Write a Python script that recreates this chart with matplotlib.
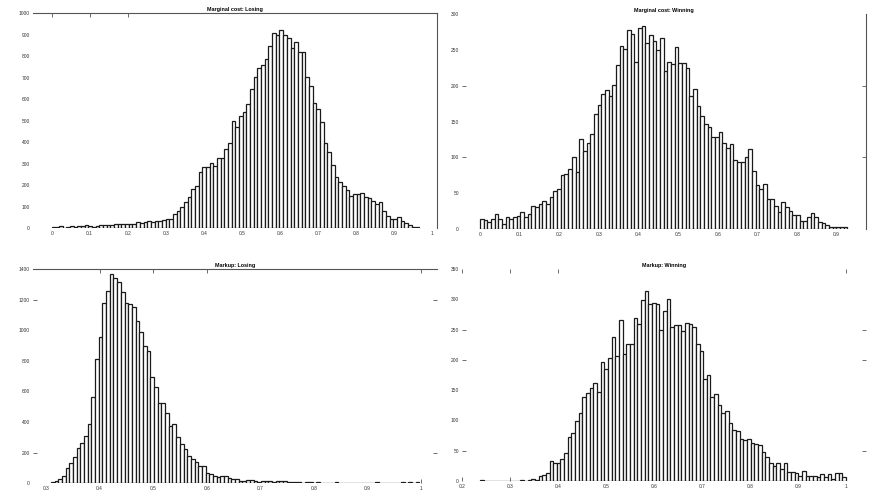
import numpy as np
import matplotlib
matplotlib.use("Agg")
import matplotlib.pyplot as plt

plt.rcParams['font.family'] = ['Liberation Sans', 'DejaVu Sans']

# ---------------- data (counts per bin, 100 bins spanning each sample range) ----------------
mc_losing_counts = [8, 8, 11, 3, 7, 9, 7, 9, 10, 15,
                    9, 8, 10, 16, 16, 17, 14, 18, 20, 20,
                    22, 18, 22, 27, 24, 30, 32, 28, 36, 32,
                    40, 43, 43,
                    68, 80, 99, 122, 147, 184, 195, 260, 287, 287,
                    302, 290, 326, 326, 367, 398, 498, 471, 524, 543,
                    577, 647, 702, 747, 758, 786, 850, 907, 899, 921,
                    898, 884, 840, 868, 822, 820, 704, 662, 581, 557,
                    493, 398, 357, 296, 237, 216, 195, 180, 149, 158,
                    158, 166, 144, 143, 126, 113, 122, 82, 59, 42,
                    43, 51, 33, 26, 14, 8, 4]
mc_losing_range = (0.0, 0.966)

mc_winning_counts = [13, 12, 9, 14, 20, 13, 7, 17, 14, 17,
                     18, 23, 16, 21, 32, 30, 34, 39, 35, 45,
                     53, 56, 75, 77, 83, 100, 79, 125, 109, 120,
                     132, 160, 173, 189, 194, 186, 201, 229, 256, 251,
                     278, 272, 233, 281, 283, 260, 271, 262, 250, 267,
                     220, 233, 230, 254, 232, 232, 225, 185, 195, 171,
                     157, 147, 142, 129, 128, 135, 120, 113, 118, 96,
                     93, 94, 100, 112, 81, 61, 55, 62, 42, 41,
                     32, 24, 38, 31, 25, 19, 19, 11, 11, 17,
                     22, 17, 9, 7.5, 5.7, 2.8, 1.9, 1.9, 2.3, 2]
mc_winning_range = (0.0, 0.927)

mk_losing_counts = [7, 17, 28, 50, 98, 131, 174, 233, 266, 311, 388, 562, 812, 958, 1176, 1256,
                    1365,
                    1339, 1317, 1252, 1176, 1171, 1150, 1058, 986, 899, 864,
                    697, 632, 522, 527, 457, 377, 385, 305, 255, 222,
                    180, 160, 140, 112, 112,
                    68, 60, 50, 40, 48, 45, 35, 25, 28, 18,
                    15, 22, 20, 15, 10, 18, 15, 12, 10, 15,
                    13, 12, 8, 10, 7, 8, 5, 10, 7, 5,
                    7, 5, 5, 4, 5, 6, 4, 4, 5, 3,
                    5, 4, 5, 4, 4, 3, 6, 4, 4, 5,
                    3, 5, 4, 6, 3, 7, 5, 6]
mk_losing_range = (0.309, 0.997)

mk_winning_counts = [1, 0, 0, 0, 0, 0, 0, 0, 0, 0,
                     0, 1, 0, 2, 3, 2, 8, 10, 13, 33,
                     29, 29, 37, 47, 72, 80, 99, 113, 138, 145,
                     154, 161, 147, 196, 185, 203, 238, 206, 266, 210,
                     226, 226, 269, 260, 299, 313, 293, 294, 292, 249,
                     280, 300, 254, 257, 257, 248, 261, 260, 255, 226,
                     214, 168, 175, 139, 143,
                     125, 112, 116, 96, 84, 83, 69, 68, 70, 62,
                     61, 59, 48, 40, 29, 25, 29, 19, 29, 15,
                     15, 14, 9, 16, 9, 9, 9, 7, 12, 7,
                     11, 4, 13, 13, 7]
mk_winning_range = (0.2375, 1.0)

titles = ["Marginal cost: Losing", "Marginal cost: Winning",
          "Markup: Losing", "Markup: Winning"]

# tick labels
mc_losing_xticks = [0, 0.1, 0.2, 0.3, 0.4, 0.5, 0.6, 0.7, 0.8, 0.9, 1]
mc_losing_xlabels = ["0", "0.1", "0.2", "0.3", "0.4", "0.5", "0.6", "0.7", "0.8", "0.9", "1"]
mc_losing_yticks = [0, 100, 200, 300, 400, 500, 600, 700, 800, 900, 1000]

mc_winning_xticks = [0, 0.1, 0.2, 0.3, 0.4, 0.5, 0.6, 0.7, 0.8, 0.9]
mc_winning_xlabels = ["0", "0.1", "0.2", "0.3", "0.4", "0.5", "0.6", "0.7", "0.8", "0.9"]
mc_winning_yticks = [0, 50, 100, 150, 200, 250, 300]

mk_losing_xticks = [0.3, 0.4, 0.5, 0.6, 0.7, 0.8, 0.9, 1]
mk_losing_xlabels = ["0.3", "0.4", "0.5", "0.6", "0.7", "0.8", "0.9", "1"]
mk_losing_yticks = [0, 200, 400, 600, 800, 1000, 1200, 1400]

mk_winning_xticks = [0.2, 0.3, 0.4, 0.5, 0.6, 0.7, 0.8, 0.9, 1]
mk_winning_xlabels = ["0.2", "0.3", "0.4", "0.5", "0.6", "0.7", "0.8", "0.9", "1"]
mk_winning_yticks = [0, 50, 100, 150, 200, 250, 300, 350]

# ---------------- figure ----------------
W, H = 882, 498
fig = plt.figure(figsize=(W / 100, H / 100), dpi=100)

SPINE_C = '#555555'
MARK_C = '#555555'


def px_rect(left, top, right, bottom):
    return [left / W, 1 - bottom / H, (right - left) / W, (bottom - top) / H]


def add_marks(ax, side, positions):
    if side in ('top', 'bottom'):
        sec = ax.secondary_xaxis(side)
    else:
        sec = ax.secondary_yaxis(side)
    sec.set_ticks(positions, labels=[''] * len(positions))
    sec.tick_params(direction='in', length=3, width=0.6, color=MARK_C, pad=0)
    for s in sec.spines.values():
        s.set_visible(False)
    return sec


def panel(rect, counts, rng, xlim, ylim, xticks, xlabels, yticks, title,
          spines, marks):
    ax = fig.add_axes(rect)
    edges = np.linspace(rng[0], rng[1], len(counts) + 1)
    centers = (edges[:-1] + edges[1:]) / 2
    ax.hist(centers, bins=edges, weights=counts, histtype='bar',
            facecolor='white', edgecolor='#1a1a1a', linewidth=0.9)
    ax.set_xlim(*xlim)
    ax.set_ylim(*ylim)
    ax.set_xticks(xticks, labels=xlabels)
    ax.set_yticks(yticks, labels=[str(v) for v in yticks])
    ax.tick_params(length=0, labelsize=3.5, labelcolor='#333333', pad=2.2)
    for name, s in ax.spines.items():
        s.set_visible(name in spines)
        s.set_color(SPINE_C)
        s.set_linewidth(0.8)
    ax.set_title(title, fontsize=3.9, fontweight='bold', pad=1.6)
    for side, pos in marks.items():
        add_marks(ax, side, pos)
    ax.patch.set_alpha(0)
    return ax


panel(px_rect(33, 13.3, 437, 228.3), mc_losing_counts, mc_losing_range,
      (-0.049, 1.013), (0, 1000), mc_losing_xticks, mc_losing_xlabels,
      mc_losing_yticks, titles[0], spines=('top', 'right'),
      marks={'top': [0, 0.1, 0.2]})

panel(px_rect(462, 14.3, 866, 228.7), mc_winning_counts, mc_winning_range,
      (-0.0454, 0.974), (0, 300), mc_winning_xticks, mc_winning_xlabels,
      mc_winning_yticks, titles[1], spines=('right',),
      marks={'left': [100, 200], 'right': [100, 200]})

panel(px_rect(33, 269, 437, 483.3), mk_losing_counts, mk_losing_range,
      (0.2757, 1.0299), (0, 1400), mk_losing_xticks, mk_losing_xlabels,
      mk_losing_yticks, titles[2], spines=('top',),
      marks={'top': [0.4, 0.5, 0.6, 1.0], 'bottom': [1.0],
             'left': [200, 1200], 'right': [200, 1200]})

panel(px_rect(462, 269, 866, 481), mk_winning_counts, mk_winning_range,
      (0.2, 1.042), (0, 350), mk_winning_xticks, mk_winning_xlabels,
      mk_winning_yticks, titles[3], spines=(),
      marks={'top': [0.2, 0.3, 0.4, 1.0], 'bottom': [0.2, 0.3],
             'left': [50, 200, 250], 'right': [50, 200, 250]})

fig.savefig("out.png", dpi=100, facecolor='white')
